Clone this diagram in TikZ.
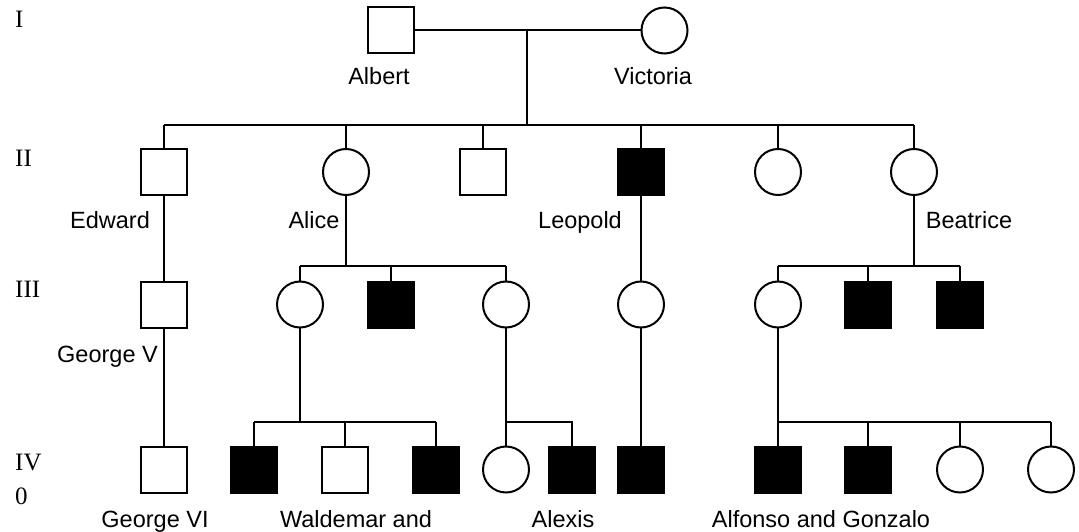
\documentclass[tikz,border=0pt]{standalone}
\usepackage{fontspec}
\setmainfont{Liberation Serif}
\setsansfont{Liberation Sans}
\begin{document}
\begin{tikzpicture}[x=1pt,y=-1pt,
  ind/.style={draw=black,line width=2pt,minimum size=46pt,inner sep=0pt,outer sep=0pt,fill=white},
  male/.style={ind,rectangle},
  female/.style={ind,circle},
  aff/.style={fill=black},
  link/.style={line width=2pt,draw=black},
  lbl/.style={font=\sffamily\fontsize{23.5}{26}\selectfont,anchor=base,inner sep=0pt},
  gen/.style={font=\rmfamily\fontsize{25}{28}\selectfont,anchor=base west,inner sep=0pt}]
\useasboundingbox (0,0) rectangle (1079,532);
% generation labels
\node[gen] (gI) at (15,28) {I};
\node[gen] (gII) at (15,167) {II};
\node[gen] (gIII) at (15,297) {III};
\node[gen] (gIV) at (15,470) {IV};
\node[gen] (g0) at (15,504) {0};
% generation I
\node[male] (albert) at (391,30.5) {};
\node[female] (victoria) at (664.5,30.5) {};
\node[lbl] (lalbert) at (379,85) {Albert};
\node[lbl] (lvictoria) at (653,85) {Victoria};
% generation II
\node[male] (edward) at (164,172) {};
\node[female] (alice) at (346,172) {};
\node[male] (son3) at (483,172) {};
\node[male,aff] (leopold) at (641,172) {};
\node[female] (dau5) at (778,172) {};
\node[female] (beatrice) at (914,172) {};
\node[lbl] (ledward) at (110,228) {Edward};
\node[lbl] (lalice) at (314,228) {Alice};
\node[lbl] (lleopold) at (580,228) {Leopold};
\node[lbl] (lbeatrice) at (969,228) {Beatrice};
% generation III
\node[male] (georgeV) at (164,304.5) {};
\node[female] (aliceD1) at (300,304.5) {};
\node[male,aff] (aliceS) at (391,304.5) {};
\node[female] (aliceD2) at (506,304.5) {};
\node[female] (leoD) at (641,304.5) {};
\node[female] (beaD) at (778,304.5) {};
\node[male,aff] (beaS1) at (868,304.5) {};
\node[male,aff] (beaS2) at (960,304.5) {};
\node[lbl,anchor=base east] (lgeorgeV) at (158,362) {George V};
% generation IV
\node[male] (georgeVI) at (164,469.5) {};
\node[male,aff] (d1s1) at (254,469.5) {};
\node[male] (d1s2) at (345,469.5) {};
\node[male,aff] (d1s3) at (436,469.5) {};
\node[female] (d2d) at (506,469.5) {};
\node[male,aff] (alexis) at (572,469.5) {};
\node[male,aff] (leoGS) at (641,469.5) {};
\node[male,aff] (alfonso) at (778,469.5) {};
\node[male,aff] (gonzalo) at (868,469.5) {};
\node[female] (bd3) at (960,469.5) {};
\node[female] (bd4) at (1051,469.5) {};
\node[lbl] (lgeorgeVI) at (155,527) {George VI};
\node[lbl] (lwaldemar) at (356,527) {Waldemar and};
\node[lbl] (lalexis) at (563,527) {Alexis};
\node[lbl] (lalfonso) at (821,527) {Alfonso and Gonzalo};
% junction coordinates
\coordinate (m1) at (527,30.5);
\coordinate (s1) at (527,125);
\coordinate (s2) at (346,266);
\coordinate (s3) at (914,266);
\coordinate (s4) at (300,422);
\coordinate (s5) at (506,422);
\coordinate (s6) at (778,422);
% generation I to II
\draw[link] (albert.east) -- (victoria.west);
\draw[link] (m1) -- (s1);
\draw[link] (edward |- s1) -- (beatrice |- s1);
\foreach \c in {edward,alice,son3,leopold,dau5,beatrice}
  \draw[link] (\c |- s1) -- (\c.north);
% generation II to III
\draw[link] (edward.south) -- (georgeV.north);
\draw[link] (alice.south) -- (s2);
\draw[link] (aliceD1 |- s2) -- (aliceD2 |- s2);
\foreach \c in {aliceD1,aliceS,aliceD2}
  \draw[link] (\c |- s2) -- (\c.north);
\draw[link] (leopold.south) -- (leoD.north);
\draw[link] (beatrice.south) -- (s3);
\draw[link] (beaD |- s3) -- (beaS2 |- s3);
\foreach \c in {beaD,beaS1,beaS2}
  \draw[link] (\c |- s3) -- (\c.north);
% generation III to IV
\draw[link] (georgeV.south) -- (georgeVI.north);
\draw[link] (aliceD1.south) -- (s4);
\draw[link] (d1s1 |- s4) -- (d1s3 |- s4);
\foreach \c in {d1s1,d1s2,d1s3}
  \draw[link] (\c |- s4) -- (\c.north);
\draw[link] (aliceD2.south) -- (d2d.north);
\draw[link] (s5) -- (alexis |- s5) -- (alexis.north);
\draw[link] (leoD.south) -- (leoGS.north);
\draw[link] (beaD.south) -- (alfonso.north);
\draw[link] (s6) -- (bd4 |- s6);
\foreach \c in {gonzalo,bd3,bd4}
  \draw[link] (\c |- s6) -- (\c.north);
\end{tikzpicture}
\end{document}
